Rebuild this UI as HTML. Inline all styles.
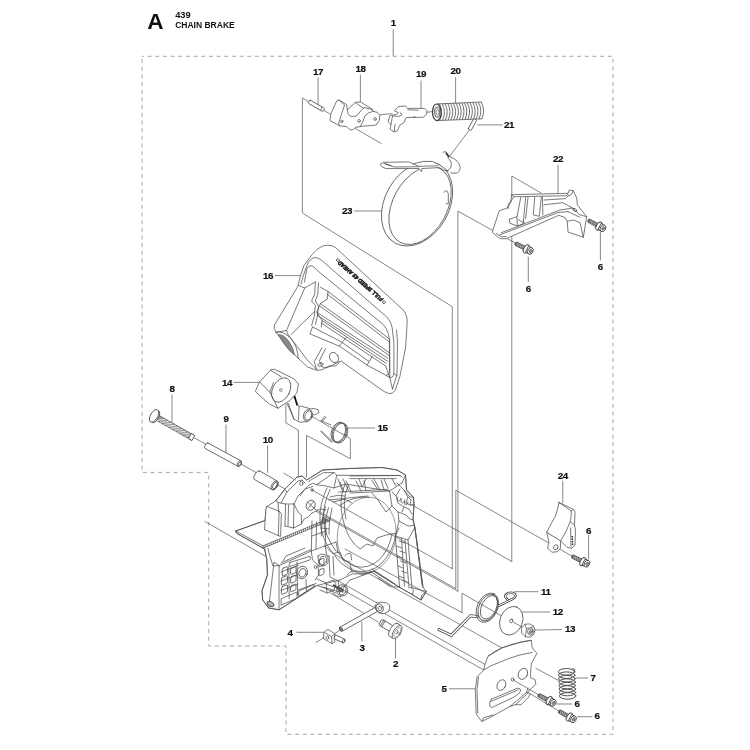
<!DOCTYPE html>
<html><head><meta charset="utf-8">
<style>
html,body{margin:0;padding:0;background:#fff;}
body{width:750px;height:750px;overflow:hidden;font-family:"Liberation Sans",sans-serif;}
svg{display:block;position:absolute;left:0;top:0;filter:blur(0.45px);}
.l{fill:none;stroke:#555;stroke-width:0.7;stroke-linecap:round;stroke-linejoin:round;}
.p{fill:#fff;stroke:#4d4d4d;stroke-width:0.75;stroke-linecap:round;stroke-linejoin:round;}
.n{fill:none;stroke:#4d4d4d;stroke-width:0.75;stroke-linecap:round;stroke-linejoin:round;}
.t{fill:none;stroke:#666;stroke-width:0.6;stroke-linecap:round;stroke-linejoin:round;}
.d{fill:none;stroke:#909090;stroke-width:0.8;stroke-dasharray:4 3.67;stroke-dashoffset:2.1;}
text{font-family:"Liberation Sans",sans-serif;font-weight:bold;fill:#111;}
.num{font-size:9.8px;text-anchor:middle;letter-spacing:-0.45px;stroke:#111;stroke-width:0.2px;}
</style></head><body>
<svg width="750" height="750" viewBox="0 0 750 750">
<rect width="750" height="750" fill="#fff"/>

<!-- HEADING -->
<g id="heading">
<text x="147.2" y="29.4" style="font-size:22.6px">A</text>
<text x="175.2" y="18.2" style="font-size:8.4px" textLength="15.5" lengthAdjust="spacingAndGlyphs">439</text>
<text x="175.2" y="28.1" style="font-size:8.6px" textLength="59.5" lengthAdjust="spacingAndGlyphs">CHAIN BRAKE</text>
</g>
<!-- DASHED BORDER -->
<path class="d" d="M142,56.3 H613 V734.3 H286 V646 H208.7 V472.4 H142 Z"/>
<!-- LONG EXPLODE LINES -->
<g id="longlines_behind" class="l">
<path d="M381.4,143.6 L302.4,98 V213 L452.3,306.7 V568.7"/>
<path d="M517,244 L457.9,211.1 V591.3"/>
<path d="M541,193 L511.8,176 V561.5"/>
<path d="M571.6,555.9 L455.8,490.2 V588.6"/>
<path d="M528,631 L462,593.3 V612.7"/>
</g>
<!-- LABELS -->
<g id="labels" class="num">
<text x="393.2" y="25.8">1</text>
<text x="318" y="75">17</text>
<text x="360.4" y="72.2">18</text>
<text x="421" y="77.4">19</text>
<text x="455.4" y="73.8">20</text>
<text x="509" y="128">21</text>
<text x="558" y="162">22</text>
<text x="347" y="214.3">23</text>
<text x="268" y="279.2">16</text>
<text x="227" y="385.6">14</text>
<text x="382.6" y="431.2">15</text>
<text x="172" y="392.3">8</text>
<text x="226" y="422">9</text>
<text x="267.7" y="443.3">10</text>
<text x="528.3" y="292.3">6</text>
<text x="600.2" y="269.7">6</text>
<text x="562.8" y="478.5">24</text>
<text x="588.6" y="533.6">6</text>
<text x="545.8" y="595">11</text>
<text x="557.8" y="615.3">12</text>
<text x="570.1" y="632">13</text>
<text x="593" y="681.3">7</text>
<text x="444" y="692">5</text>
<text x="576.9" y="706.8">6</text>
<text x="597.1" y="719.3">6</text>
<text x="290" y="635.6">4</text>
<text x="361.9" y="651.3">3</text>
<text x="395.5" y="666.8">2</text>
</g>
<!-- LEADERS -->
<g id="leaders" class="l">
<path d="M393.2,29.6 V56"/>
<path d="M318,78 V105"/>
<path d="M360.4,75 V102.4"/>
<path d="M421,81 V108"/>
<path d="M455.6,77.6 V104"/>
<path d="M477.6,124.9 H502.4"/>
<path d="M558,165 V193"/>
<path d="M354.5,211 H382"/>
<path d="M275.2,275.6 H300.4"/>
<path d="M234,382.4 H259.4"/>
<path d="M348,428 H374.7"/>
<path d="M172,395 V424.4"/>
<path d="M226,425 V454.3"/>
<path d="M267.6,445.7 V472.4"/>
<path d="M528.3,257.2 V281.5"/>
<path d="M600.4,232.4 V260"/>
<path d="M562.8,481 V503"/>
<path d="M588.6,535.3 V558.8"/>
<path d="M514.4,591.7 H537.9"/>
<path d="M521.7,612 H549.6"/>
<path d="M534.9,630.1 L561.3,629.5"/>
<path d="M576,678 H587.7"/>
<path d="M449.3,688.8 H474.8"/>
<path d="M556.9,704 H571.6"/>
<path d="M577.5,716.7 H592.1"/>
<path d="M296.9,632.3 H322.8"/>
<path d="M361.9,622 V641.2"/>
<path d="M395.5,638.8 V658"/>
</g>
<!-- PARTS -->
<g id="top">
<g id="p17"><rect class="p" x="307.6" y="103.9" width="17.4" height="3.7" rx="1.2" transform="rotate(30 316.3 105.75)"/><path class="n" d="M322.1,107.2 L320.5,110.1"/></g>
<g id="p18"><path class="p" d="M330.2,119.0 L331.0,113.4 L337.0,100.4 L339.0,100.0 L346.6,104.6 L347.4,109.8 L355.4,102.4 L360.6,102.0 L372.6,109.4 L373.0,111.4 L377.0,112.2 L379.8,115.4 L379.4,120.6 L376.2,125.0 L363.4,126.2 L360.2,126.6 L355.4,127.4 L353.0,129.8 L349.8,129.8 L346.6,126.6 L339.4,125.8 L330.2,120.6 Z"/><path class="n" d="M339.0,100.0 L344.6,105.0 L338.6,123.0 L339.4,125.8"/><path class="n" d="M347.4,109.8 L348.2,114.2 L350.6,116.4 L356.2,116.2 L363.4,108.2 L365.0,107.6 L372.2,109.6"/><path class="n" d="M355.4,102.4 L357.0,103.8 L363.4,108.2"/><path class="n" d="M373.0,111.4 L368.2,113.0 L365.0,115.8 L362.6,122.2 L360.2,126.6"/><ellipse class="n" cx="341.8" cy="121.4" rx="1.0" ry="1.4" transform="rotate(20 341.8 121.4)"/><ellipse class="n" cx="359.0" cy="121.0" rx="1.2" ry="1.5" transform="rotate(20 359.0 121.0)"/><ellipse class="n" cx="375.0" cy="119.0" rx="1.2" ry="1.5" transform="rotate(20 375.0 119.0)"/></g>
<g id="p19"><path class="p" d="M395.0,110.0 L399.0,106.4 L405.4,106.0 L407.8,108.4 L424.6,108.4 L427.0,110.8 L426.6,114.0 L423.8,117.2 L406.2,117.6 L403.8,122.8 L399.8,125.2 L397.4,130.8 L394.2,132.0 L390.2,129.2 L391.0,124.4 L388.2,122.0 L389.8,115.6 L396.6,114.4 L398.2,112.4 L395.0,111.2 Z"/><path class="n" d="M407.8,109.8 L418.2,110.2"/><path class="n" d="M392.6,115.6 L391.0,124.4"/><path class="n" d="M400.2,112.8 L402.2,114.4 L399.0,116.4 L393.4,116.0"/><path class="n" d="M395.0,124.4 L394.2,131.6"/><path class="n" d="M413.4,117.2 L415.0,116.6"/></g>
<path class="l" d="M380,114.8 L392,113.6 M427,112.3 L432,111.6"/>
<g id="p20" transform="rotate(-1.8 459 111.4)"><path d="M437,103.2 L481,102.8 Q485.5,111 481,119.6 L437,119.8 Z" fill="#fff" stroke="none"/><path d="M439.5,102.9 q4.2,8.4 0,16.8" fill="none" stroke="#6a6a6a" stroke-width="0.95"/><path d="M442.3,102.9 q4.2,8.4 0,16.8" fill="none" stroke="#6a6a6a" stroke-width="0.95"/><path d="M445.1,102.9 q4.2,8.4 0,16.8" fill="none" stroke="#6a6a6a" stroke-width="0.95"/><path d="M447.9,102.9 q4.2,8.4 0,16.8" fill="none" stroke="#6a6a6a" stroke-width="0.95"/><path d="M450.7,102.9 q4.2,8.4 0,16.8" fill="none" stroke="#6a6a6a" stroke-width="0.95"/><path d="M453.5,102.9 q4.2,8.4 0,16.8" fill="none" stroke="#6a6a6a" stroke-width="0.95"/><path d="M456.3,102.9 q4.2,8.4 0,16.8" fill="none" stroke="#6a6a6a" stroke-width="0.95"/><path d="M459.1,102.9 q4.2,8.4 0,16.8" fill="none" stroke="#6a6a6a" stroke-width="0.95"/><path d="M461.9,102.9 q4.2,8.4 0,16.8" fill="none" stroke="#6a6a6a" stroke-width="0.95"/><path d="M464.7,102.9 q4.2,8.4 0,16.8" fill="none" stroke="#6a6a6a" stroke-width="0.95"/><path d="M467.5,102.9 q4.2,8.4 0,16.8" fill="none" stroke="#6a6a6a" stroke-width="0.95"/><path d="M470.3,102.9 q4.2,8.4 0,16.8" fill="none" stroke="#6a6a6a" stroke-width="0.95"/><path d="M473.1,102.9 q4.2,8.4 0,16.8" fill="none" stroke="#6a6a6a" stroke-width="0.95"/><path d="M475.9,102.9 q4.2,8.4 0,16.8" fill="none" stroke="#6a6a6a" stroke-width="0.95"/><path d="M478.7,102.9 q4.2,8.4 0,16.8" fill="none" stroke="#6a6a6a" stroke-width="0.95"/><path d="M481.5,102.9 q4.2,8.4 0,16.8" fill="none" stroke="#6a6a6a" stroke-width="0.95"/><path class="n" d="M436.8,103.3 L481.5,102.7 M436.8,119.9 L481.5,119.6"/><ellipse cx="436.8" cy="111.6" rx="4.3" ry="8.3" fill="#fff" stroke="#3a3a3a" stroke-width="1.2"/><ellipse cx="437.2" cy="111.6" rx="2.6" ry="5.2" fill="#ddd" stroke="#555" stroke-width="0.9"/><ellipse cx="437.6" cy="111.8" rx="1.3" ry="2.6" fill="#fff" stroke="#666" stroke-width="0.6"/></g>
<g id="p21"><path class="l" d="M468.8,130.8 L448.8,157.2"/><rect class="p" x="466.4" y="122.9" width="12" height="3.4" rx="0.8" transform="rotate(-61.5 472.4 124.6)"/></g>
</g>
<g id="p23"><ellipse class="p" cx="417.1" cy="203.8" rx="45" ry="32.1" transform="rotate(-60.3 417.1 203.8)"/><ellipse class="n" cx="420.1" cy="205.4" rx="42" ry="27.2" transform="rotate(-61.4 420.1 205.4)"/><path class="p" d="M380.6,164.1 L383.8,162.3 L408.7,161.9 L413.1,163.8 L423.4,161.4 L432.2,161.4 L439.5,164.8 L448.3,171.1 L443.9,170.2 L439.5,167.6 L421.9,168.5 L421.6,171.7 L419.0,168.5 L386.0,168.6 L382.3,167.0 Z"/><path class="n" d="M385.3,164.1 L394.1,167.0 L419.0,166.7"/><path class="n" d="M383.8,163.2 L391.1,165.5"/><path class="n" d="M413.1,163.8 L419.0,166.3 L438.0,165.8"/><path class="n" d="M443.2,152.3 L445.4,151.4 L449.8,156.5 Q459.4,160.5 460.2,167.5 Q459.6,172.6 456.2,173.2 L450.6,172.9"/><path class="n" d="M447.8,158 Q452.6,161.5 451,167 Q449.6,170 446.8,170.9"/><path class="n" d="M446.2,153.2 l2.4,3.4" style="stroke-width:1.6;stroke:#333"/><path class="n" d="M443.9,192.2 L446.6,190.5 L448.3,193.4 L448.3,203.7 L446.1,203.7"/></g>
<g id="p22"><path class="p" d="M492.7,230.7 L499.3,210.7 L507.3,208.0 L508.7,203.3 L510.7,202.0 L511.7,194.7 L568.0,193.3 L569.3,190.0 L573.3,190.7 L576.7,198.0 L577.3,204.7 L586.7,216.7 L583.3,237.3 L568.0,232.0 L567.3,221.3 L564.7,217.3 L558.7,215.3 L509.3,237.3 L506.7,238.7 L500.7,238.7 L497.3,236.7 L492.7,232.7 Z"/><path class="n" d="M511.7,194.7 L513.6,196.8 L566.7,195.7 L568.0,193.3"/><path class="n" d="M513.6,196.8 L510.0,203.3 L508.0,208.7"/><path class="n" d="M520.7,197.6 L516.7,218.7 L523.3,222.7 L525.6,197.6"/><path class="n" d="M528.0,197.6 L525.6,218.9"/><path class="n" d="M534.7,197.6 L533.3,214.9 L539.3,216.3 L541.3,197.3"/><path class="n" d="M542.4,196.8 L542.9,214.9"/><path class="n" d="M509.3,219.3 L516.7,216.7"/><path class="n" d="M509.3,219.3 L510.0,223.3 L517.3,226.0 L524.0,223.3 L523.5,220.3"/><path class="n" d="M517.3,226.0 L517.1,220.0"/><path class="n" d="M501.3,232.7 L560.0,210.0 L571.3,208.3"/><path class="n" d="M499.7,234.9 L558.0,212.5 L568.0,211.7"/><path class="n" d="M544.0,200.0 L565.3,198.7 L568.3,195.7"/><path class="n" d="M544.0,204.8 L562.7,202.7 L566.9,204.8 L574.0,209.1"/><path class="n" d="M570.7,206.7 L580.0,214.9 L586.7,216.7"/><path class="n" d="M568.0,211.7 L580.0,217.3"/><path class="n" d="M573.3,190.7 L571.3,194.7 L568.0,196.0"/><path class="n" d="M567.3,221.3 L573.3,220.0 L580.0,222.7 L583.3,237.3"/><path class="n" d="M496.0,233.3 L501.3,236.7 L506.7,236.7"/><ellipse class="n" cx="574.8" cy="210" rx="2" ry="1.3" transform="rotate(25 574.8 210)"/></g><g id="screws"><g transform="translate(515.2,243.3) rotate(26.6)">
<path d="M0.2,-1 L1.2,-1.8 L11,-1.9 L11,1.9 L1.2,1.8 L0.2,1 Z" fill="#6a6a6a" stroke="#333" stroke-width="0.7" stroke-linejoin="round"/>
<path d="M2,-1.8 l1,3.6 M3.8,-1.8 l1,3.6 M5.6,-1.8 l1,3.6 M7.4,-1.8 l1,3.6 M9.2,-1.8 l1,3.6" stroke="#ddd" stroke-width="0.5" fill="none"/>
<ellipse cx="12.4" cy="0" rx="2.4" ry="4.6" fill="#fff" stroke="#333" stroke-width="0.85"/>
<path d="M13.2,-3.5 L16.8,-3.4 L16.8,3.4 L13.2,3.5 Z" fill="#fff" stroke="#333" stroke-width="0.8"/>
<ellipse cx="17" cy="0" rx="2.6" ry="3.6" fill="#fff" stroke="#333" stroke-width="0.8"/>
<ellipse cx="17.3" cy="0" rx="1.2" ry="1.8" fill="#999" stroke="#444" stroke-width="0.6"/>
</g><g transform="translate(588,220.2) rotate(28.4)">
<path d="M0.2,-1 L1.2,-1.8 L11,-1.9 L11,1.9 L1.2,1.8 L0.2,1 Z" fill="#6a6a6a" stroke="#333" stroke-width="0.7" stroke-linejoin="round"/>
<path d="M2,-1.8 l1,3.6 M3.8,-1.8 l1,3.6 M5.6,-1.8 l1,3.6 M7.4,-1.8 l1,3.6 M9.2,-1.8 l1,3.6" stroke="#ddd" stroke-width="0.5" fill="none"/>
<ellipse cx="12.4" cy="0" rx="2.4" ry="4.6" fill="#fff" stroke="#333" stroke-width="0.85"/>
<path d="M13.2,-3.5 L16.8,-3.4 L16.8,3.4 L13.2,3.5 Z" fill="#fff" stroke="#333" stroke-width="0.8"/>
<ellipse cx="17" cy="0" rx="2.6" ry="3.6" fill="#fff" stroke="#333" stroke-width="0.8"/>
<ellipse cx="17.3" cy="0" rx="1.2" ry="1.8" fill="#999" stroke="#444" stroke-width="0.6"/>
</g><g transform="translate(571.8,556) rotate(27.0)">
<path d="M0.2,-1 L1.2,-1.8 L11,-1.9 L11,1.9 L1.2,1.8 L0.2,1 Z" fill="#6a6a6a" stroke="#333" stroke-width="0.7" stroke-linejoin="round"/>
<path d="M2,-1.8 l1,3.6 M3.8,-1.8 l1,3.6 M5.6,-1.8 l1,3.6 M7.4,-1.8 l1,3.6 M9.2,-1.8 l1,3.6" stroke="#ddd" stroke-width="0.5" fill="none"/>
<ellipse cx="12.4" cy="0" rx="2.4" ry="4.6" fill="#fff" stroke="#333" stroke-width="0.85"/>
<path d="M13.2,-3.5 L16.8,-3.4 L16.8,3.4 L13.2,3.5 Z" fill="#fff" stroke="#333" stroke-width="0.8"/>
<ellipse cx="17" cy="0" rx="2.6" ry="3.6" fill="#fff" stroke="#333" stroke-width="0.8"/>
<ellipse cx="17.3" cy="0" rx="1.2" ry="1.8" fill="#999" stroke="#444" stroke-width="0.6"/>
</g><g transform="translate(538.2,694.9) rotate(27.6)">
<path d="M0.2,-1 L1.2,-1.8 L11,-1.9 L11,1.9 L1.2,1.8 L0.2,1 Z" fill="#6a6a6a" stroke="#333" stroke-width="0.7" stroke-linejoin="round"/>
<path d="M2,-1.8 l1,3.6 M3.8,-1.8 l1,3.6 M5.6,-1.8 l1,3.6 M7.4,-1.8 l1,3.6 M9.2,-1.8 l1,3.6" stroke="#ddd" stroke-width="0.5" fill="none"/>
<ellipse cx="12.4" cy="0" rx="2.4" ry="4.6" fill="#fff" stroke="#333" stroke-width="0.85"/>
<path d="M13.2,-3.5 L16.8,-3.4 L16.8,3.4 L13.2,3.5 Z" fill="#fff" stroke="#333" stroke-width="0.8"/>
<ellipse cx="17" cy="0" rx="2.6" ry="3.6" fill="#fff" stroke="#333" stroke-width="0.8"/>
<ellipse cx="17.3" cy="0" rx="1.2" ry="1.8" fill="#999" stroke="#444" stroke-width="0.6"/>
</g><g transform="translate(558.6,711) rotate(29.1)">
<path d="M0.2,-1 L1.2,-1.8 L11,-1.9 L11,1.9 L1.2,1.8 L0.2,1 Z" fill="#6a6a6a" stroke="#333" stroke-width="0.7" stroke-linejoin="round"/>
<path d="M2,-1.8 l1,3.6 M3.8,-1.8 l1,3.6 M5.6,-1.8 l1,3.6 M7.4,-1.8 l1,3.6 M9.2,-1.8 l1,3.6" stroke="#ddd" stroke-width="0.5" fill="none"/>
<ellipse cx="12.4" cy="0" rx="2.4" ry="4.6" fill="#fff" stroke="#333" stroke-width="0.85"/>
<path d="M13.2,-3.5 L16.8,-3.4 L16.8,3.4 L13.2,3.5 Z" fill="#fff" stroke="#333" stroke-width="0.8"/>
<ellipse cx="17" cy="0" rx="2.6" ry="3.6" fill="#fff" stroke="#333" stroke-width="0.8"/>
<ellipse cx="17.3" cy="0" rx="1.2" ry="1.8" fill="#999" stroke="#444" stroke-width="0.6"/>
</g></g>
<g id="p16"><path class="p" d="M298,286 L300,277.3 L304,265.3 L312,254.7 Q320,245 327.5,245.2 Q332,245 335.5,247.5 L398.4,305.6 Q407.6,312 407.2,322 L405.6,347.2 L400,376 L395.2,390.4 Q392.5,394.5 388.5,393.5 L384,391.5 L340.8,360.8 L336,366 L329,366 L322,369.8 L316.8,370.3 L307.3,366.9 L287.3,347.8 L276,332.2 Q273.3,328.5 274.3,325.3 Z"/><path class="n" d="M301,284 L303.5,275 L308,262.7 Q312,257 316,257.6 Q319,258 322,260.6 L381,312 Q391,319 392.2,328 L393.9,342.6 L393.9,373.8 Q393,378.5 389.6,377.3"/><path class="n" d="M304.5,282 L306.7,269.3 Q309,264 313,266.5 L320.3,273 L379,321 Q388,327 389.4,339 L389.6,372 L386.1,376"/><path class="n" d="M396.5,330 L397.5,342 L397,374.4 L392.5,389 M389.6,377.3 L392.5,389 M393.9,373.8 L397,375.5"/><path class="n" d="M328.1,291.5 L389.6,339.1"/><path class="n" d="M327.2,294.1 L389.6,342.2"/><path class="n" d="M320.3,303.6 L389.6,353.0"/><path class="n" d="M319.9,306.2 L389.2,355.6"/><path class="n" d="M316.8,312.3 L387.9,358.2"/><path class="n" d="M317.1,315.2 L387.5,361.1"/><path class="n" d="M322.0,320.4 L386.1,363.4"/><path class="n" d="M321.6,323.2 L385.8,366.2"/><path class="n" d="M389.6,339.1 L389.9,377.3 M385.8,366.2 L389.6,377.3"/><path class="n" d="M320.3,287.1 L328.1,291.5 L327.2,299.3 L320.3,303.6 L316.8,312.3 L322.0,320.4 L321.3,327.0"/><path class="n" d="M315.4,281.9 L314.7,294.1 L311.6,301.0 L315.4,305.3 L314.2,316.6 L311.6,325.3"/><path class="n" d="M318.5,282.8 L317.8,294.1 L315.4,301.0 L318.5,306.2 L317.1,317.5 L315.4,324.4"/><path class="n" d="M312.5,327.0 L309.9,333.9 L339.3,346.1 L367.1,365.1 L389.6,377.3"/><path class="n" d="M312.5,327.0 L341.1,341.7 L368.8,361.3 M339.3,346.1 L346.3,337.4 M367.1,365.1 L372.3,356.5"/><path class="n" d="M298.6,285.4 L304.7,288.0 L315.4,281.9 M304.7,288.0 L286.5,330.5 L276.1,332.2"/><path class="n" d="M286.5,330.5 L288.2,334.8 L307.3,359.9 L316.8,369.5"/><path class="n" d="M314.7,311.4 L290.8,334.8"/><path d="M278.5,334.5 Q284,334.5 289,341.5 Q294,349 294.5,355 L290,351 Q283,343.5 278.5,334.5 Z" fill="#8a8a8a" stroke="#555" stroke-width="0.6"/><path class="n" d="M276,332.2 Q283,330.5 291,338.5 Q298,347 298.2,358.5"/><path class="n" d="M322.0,347.8 L314.2,361.7 L316.8,369.5 M325.5,348.7 L319.4,360.8 L322.0,366.9 L327.2,367.7 L339.3,361.7"/><ellipse class="n" cx="334" cy="357.5" rx="4.2" ry="5.4" transform="rotate(-30 334 357.5)"/><ellipse class="n" cx="320.5" cy="364.5" rx="2.6" ry="1.6" transform="rotate(-20 320.5 364.5)"/><text transform="translate(383.4,298.7) rotate(221.4)" style="font-size:5.6px;font-style:italic;font-weight:bold;stroke:#1a1a1a;stroke-width:0.55px" textLength="57.7" lengthAdjust="spacingAndGlyphs" fill="#1a1a1a">FULL SPEED 4S AHEAD</text><path d="M336.2,260 l1.8,-1.5 l1.5,1.7 l-1.7,1.7 z M382.3,302 l1.8,-1.5 l1.5,1.7 l-1.7,1.7 z" fill="none" stroke="#222" stroke-width="0.8"/></g>
<g id="p14"><path class="l" d="M285.9,404.6 V422.9 L298.4,430.2 V476 M306.5,477 V435.4 L350.4,458.8 V439"/><path class="l" d="M311.6,416.3 L349.7,438.3"/><path class="p" d="M291.8,393.6 L299.1,406.8 L300.6,406.1 L311.6,409.0 L313.0,408.3 L318.2,409.7 L318.9,412.7 L314.5,414.9 L312.3,414.1 L311.6,417.8 L307.9,421.5 L299.9,422.2 L294.0,419.3 L286.7,402.4 L289.6,398.7 Z"/><path class="n" d="M294.0,419.3 L288.4,403.4 M299.1,406.8 L298.4,420.0"/><path d="M294.6,396.3 L297,404.8" stroke="#111" stroke-width="1.7" fill="none" stroke-linecap="round"/><ellipse class="p" cx="307.9" cy="415.4" rx="4.4" ry="6" transform="rotate(18 307.9 415.4)"/><ellipse class="n" cx="308.3" cy="415.5" rx="3.2" ry="4.8" transform="rotate(18 308.3 415.5)"/><path class="p" d="M255.9,389.9 L259.5,381.9 L270.5,370.1 L274.2,369.1 L294.0,378.9 L298.4,384.1 L296.9,392.9 L290.3,400.2 L277.9,408.3 L269.1,403.9 L255.9,392.1 Z"/><path class="n" d="M270.5,370.1 L281.5,377.0 M259.5,381.9 L269.8,392.1 L277.9,408.3 M269.8,392.1 L273.5,382.6"/><ellipse class="n" cx="281.2" cy="390" rx="8.6" ry="13" transform="rotate(27 281.2 390)"/><ellipse cx="280.8" cy="390" rx="1.4" ry="1.7" fill="#ccc" stroke="#777" stroke-width="0.5"/></g><g id="p15"><ellipse class="n" cx="338.3" cy="432.2" rx="6.8" ry="10.3" transform="rotate(20 338.3 432.2)"/><ellipse class="n" cx="339.40000000000003" cy="432.64" rx="6.8" ry="10.3" transform="rotate(20 339.40000000000003 432.64)"/><ellipse class="n" cx="340.5" cy="433.08" rx="6.8" ry="10.3" transform="rotate(20 340.5 433.08)"/><path class="n" d="M320.4,431 L331.6,442.3 M321.6,431 L332.4,441.8 M321.1,420.7 L325,416.2 M322.3,421.5 L326,417.2 M321.1,420.7 L331,425"/></g>
<g id="p8_9_10"><path class="l" d="M194,437.6 L310,503"/><g transform="translate(154.6,416.2) rotate(29.4)"><path d="M2,-2.75 L44,-2.75 L44,2.75 L2,2.75 Z" fill="#a0a0a0" stroke="#444" stroke-width="0.7"/><path d="M4,2.6 l7,-5.2 M8,2.6 l7,-5.2 M12,2.6 l7,-5.2 M16,2.6 l7,-5.2 M20,2.6 l7,-5.2 M24,2.6 l7,-5.2 M28,2.6 l7,-5.2 M32,2.6 l7,-5.2 M36,2.6 l7,-5.2 M40,2.6 l7,-5.2 " stroke="#e8e8e8" stroke-width="0.9" fill="none"/><path d="M40.5,-2.9 L44.5,-2.9 L44.5,2.9 L40.5,2.9 Z" fill="#fff" stroke="#333" stroke-width="0.7"/><ellipse cx="1" cy="0" rx="3.2" ry="6.6" fill="#fff" stroke="#444" stroke-width="0.8"/><ellipse cx="-0.6" cy="0" rx="3.6" ry="7" fill="#fff" stroke="#444" stroke-width="0.8"/></g><g transform="translate(205.6,445.2) rotate(28.5)"><path d="M1,-3.1 L38.5,-3.1 A1.6,3.1 0 0 1 38.5,3.1 L1,3.1 A1.3,3.1 0 0 1 1,-3.1 Z" class="p"/><ellipse cx="38.5" cy="0" rx="1.7" ry="3.1" class="n"/><ellipse cx="38.7" cy="0" rx="1" ry="2" fill="#ddd" stroke="#555" stroke-width="0.5"/></g><g transform="translate(256,474.6) rotate(30)"><path d="M1.2,-5 L21.5,-5 A2.6,5 0 0 1 21.5,5 L1.2,5 A2.2,5 0 0 1 1.2,-5 Z" class="p"/><ellipse cx="21.5" cy="0" rx="2.7" ry="5" class="n"/><ellipse cx="21.8" cy="0" rx="1.8" ry="3.5" class="n"/></g></g>
<g id="housing"><path class="p" d="M235.8,531 L264.8,520.6 L266.8,506.5 L276,500.7 L284.7,489.3 L296.7,477.3 L302,476 L306.7,480 L322.7,470 L350,468.5 L382,467.5 L397,470 L405.5,475 L406.5,490 L413.5,497.3 L414,504.8 L413,519.7 L415,528.3 L423,587.3 L426.3,591.5 L421,600 L412.4,594.7 L399.6,587.3 L374,571.3 L350,580 L340,592 L316.7,585.5 L279,609.8 L268.7,608 L262.7,600 L262,590.7 L267.6,574.8 L266.8,559.4 L264.5,548.7 L237,533.5 Z"/><path class="n" d="M235.8,531 L264.8,520.6 M235.8,531 L237,533.5 L263,548.2 M235.8,531 L263,545.8 L329.7,518.2 M263,548.2 L329.7,520.8"/><path d="M263.0,545.8 l0.3,2.4 M265.0,545.0 l0.3,2.4 M267.0,544.1 l0.3,2.4 M269.1,543.3 l0.3,2.4 M271.1,542.5 l0.3,2.4 M273.1,541.6 l0.3,2.4 M275.1,540.8 l0.3,2.4 M277.1,539.9 l0.3,2.4 M279.2,539.1 l0.3,2.4 M281.2,538.3 l0.3,2.4 M283.2,537.4 l0.3,2.4 M285.2,536.6 l0.3,2.4 M287.3,535.8 l0.3,2.4 M289.3,534.9 l0.3,2.4 M291.3,534.1 l0.3,2.4 M293.3,533.3 l0.3,2.4 M295.3,532.4 l0.3,2.4 M297.4,531.6 l0.3,2.4 M299.4,530.7 l0.3,2.4 M301.4,529.9 l0.3,2.4 M303.4,529.1 l0.3,2.4 M305.4,528.2 l0.3,2.4 M307.5,527.4 l0.3,2.4 M309.5,526.6 l0.3,2.4 M311.5,525.7 l0.3,2.4 M313.5,524.9 l0.3,2.4 M315.6,524.1 l0.3,2.4 M317.6,523.2 l0.3,2.4 M319.6,522.4 l0.3,2.4 M321.6,521.5 l0.3,2.4 M323.6,520.7 l0.3,2.4 M325.7,519.9 l0.3,2.4 M327.7,519.0 l0.3,2.4 M329.7,518.2 l0.3,2.4 " stroke="#444" stroke-width="0.7" fill="none"/><path class="p" d="M266.8,506.5 L279.1,511.1 L281.4,513.4 L280.6,536.4 L278.3,535.6 L264.5,529.5 L266,509 Z"/><path class="n" d="M279.1,511.1 L278.3,535.6"/><path class="n" d="M276,500.7 L284.7,489.3 L296.7,477.3 L302,476 L306.7,480 L322.7,470 L350,468.5 L382,467.5 L397,470 L405.5,475 L406.5,490 L413.5,497.3 L414,504.8 L413,519.7 L415,528.3 L423,587.3"/><path class="n" d="M278,502.5 L285.5,504 L294,504 L298,496 L308.7,485.3 L312.7,483.3 L316.7,484.7 L334,472.5 L336.7,475.3 L400,475.5 L402.3,477"/><path class="n" d="M308.7,481.3 L323.3,472.7 L334,472.5 M350,476 L400,475.5 M350,478.6 L396,478.6"/><path class="n" d="M276,500.7 L278,502.5 L278.5,512 M285.5,504 L285,526 M294,504 L293.5,528 M285,526 L293.5,528 M288.5,505 L288,526"/><path class="n" d="M293.5,528 L301.5,524 L301.3,514.9 L298,512 L294,504 M301.5,524 L304,519 L308,517 L312,513"/><ellipse class="n" cx="301.3" cy="483.3" rx="1.6" ry="2.2"/><ellipse class="n" cx="310.7" cy="505.3" rx="4.4" ry="5.2" transform="rotate(25 310.7 505.3)"/><path class="n" d="M307.5,502 L314,508.5 M308,508.5 L313.5,501.5"/><circle class="n" cx="312" cy="490" r="1.3"/><path class="n" d="M316.7,484.7 L326,486 L334,488 L345,484 L389.5,491 L402,483"/><path class="n" d="M327,488 Q319,505 320,520 Q320.5,538 333,553.5"/><path class="n" d="M330,489.5 Q322.5,506 323.5,520 Q324.5,536 336,551"/><path class="n" d="M340,505.3 Q353,495.5 369.3,497.3"/><path class="n" d="M396,533.3 Q393.5,551 382,563 Q370,574.5 353.3,570.7 Q340,565 333.3,553.3"/><path class="n" d="M392,534 Q389.5,549 379.5,559.5 Q368.5,569.5 355,566.5 Q343.5,561.5 337,551"/><path class="n" d="M345,484 Q338,500 343,520 Q348,541 360,549 L367,544 L373,546 L377,538 L386,535 L396,533.3"/><path class="n" d="M348,486 Q341.5,501 346,519"/><path class="n" d="M338,479 L342,490 M343,479 L348.5,490.5 M359,479 L362,487 L366,479 M374,479 L380,490 M384,479 L388,488 M392,479 L396,486"/><path class="n" d="M336.7,475.3 L334,488 M350,493 L389.5,491"/><path class="n" d="M397,483 L404,490 L408,497 L406,503 M398,497 a1.8,2.4 20 1,0 3,1 M401.5,499 a1.8,2.4 20 1,0 3,1 M405,501 a1.8,2.4 20 1,0 3,1"/><path class="n" d="M389.5,491 L392,506 L398,512 L406,515 L410,519 L413,519.7 M392,506 L386,512 L378,500 L372,493"/><path class="n" d="M398,512 L399,521 L408,526 L414.5,525.4 M399,521 L395.3,536"/><path class="n" d="M395.3,536 L399.6,587.3 M401.5,538 L404.5,586 M408,540 L412,589 M399,528 L395.3,536 M395.3,536 L408,540 L414.5,528"/><path class="n" d="M396.5,546 L401.8,548 M397,556 L402.5,558 M398,566 L403,568 M398.7,576 L403.7,578"/><path class="n" d="M410.3,587.3 L426.3,591.5 L421,600 L412.4,594.7 L399.6,587.3 M412.4,594.7 L413.5,590 M421,600 L421.5,595.5 L426.3,591.5"/><path class="n" d="M399.6,587.3 L374,571.3 M374,571.3 L366,573.5 M391,587.3 L378,578"/><path class="n" d="M264.5,548.7 L266.8,559.4 L267.3,574.8 L262,590.7 L262.7,600 L268.7,608 L279,609.8"/><path class="n" d="M268,548.5 L271,560 L273,566 L279.1,565.6"/><path class="n" d="M279.1,565.6 L311.3,551 L325,546 L336,542 M279.1,565.6 L279,609.8 L316.7,585.5 L340,580 M279.1,565.6 L274,562 L268.7,608"/><path class="n" d="M281,563 L311,549.5 M283,561 L286,556 L305,548"/><rect class="n" x="282.2" y="568.6" width="5.4" height="7.6" rx="1.2" transform="skewY(-22) translate(0,114.0)"/><rect class="n" x="281.4" y="577.8" width="6.1" height="7.7" rx="1.2" transform="skewY(-22) translate(0,113.7)"/><rect class="n" x="281.4" y="587" width="6.1" height="7.7" rx="1.2" transform="skewY(-22) translate(0,113.7)"/><rect class="n" x="290.6" y="568.6" width="5.4" height="6.1" rx="1.2" transform="skewY(-22) translate(0,117.4)"/><rect class="n" x="290.6" y="577" width="5.4" height="6.5" rx="1.2" transform="skewY(-22) translate(0,117.4)"/><rect class="n" x="290.6" y="586" width="5.4" height="6" rx="1.2" transform="skewY(-22) translate(0,117.4)"/><rect class="n" x="319" y="560" width="5" height="7" rx="1.2" transform="skewY(-22) translate(0,128.9)"/><rect class="n" x="319" y="570" width="5" height="6" rx="1.2" transform="skewY(-22) translate(0,128.9)"/><path class="n" d="M290,562.5 L309.7,556.3 Q311.5,558.5 309.7,560 L290,566.5 Q288.5,564.5 290,562.5 Z"/><ellipse class="n" cx="302.1" cy="572.5" rx="5.4" ry="6.4" transform="rotate(20 302.1 572.5)"/><ellipse class="n" cx="302.5" cy="572.8" rx="3.4" ry="4.4" transform="rotate(20 302.5 572.8)"/><ellipse class="n" cx="323" cy="560.5" rx="3.6" ry="4.4" transform="rotate(20 323 560.5)"/><ellipse class="n" cx="315.5" cy="567" rx="1.3" ry="1.6"/><path class="n" d="M311.3,551 L312,521 M316,549 L316.5,522 M325,546 L326,528 M312,536 L326,531 M325,546 L333,553.5 L340,552 L343,560 L350,562 M336,542 L338,552"/><path class="n" d="M329,556 L330,577 L338,581 L340,592 M333,556.5 L334,575"/><ellipse class="n" cx="341.5" cy="590" rx="4.6" ry="5.4" transform="rotate(25 341.5 590)"/><ellipse class="n" cx="343.5" cy="591" rx="4.2" ry="5" transform="rotate(25 343.5 591)"/><path d="M333,585 L339,589" stroke="#222" stroke-width="1.5" fill="none"/><path class="n" d="M326,584 L337,588 M322,587 L336,593 M340,580 L352,574 L366,573.5"/><ellipse cx="270.5" cy="604" rx="3.8" ry="2.2" transform="rotate(28 270.5 604)" fill="#bbb" stroke="#333" stroke-width="0.8"/></g>
<g id="housing_extra"><path class="n" d="M325.3,506.7 L322,520 L321.3,536 M328.5,507.5 L325.5,520 L325,535 M332,508 L329.5,521 L329,534 M322,520 L329.5,521 M321.3,528 L329,529"/><path d="M322.6,517.5 L325.6,518 L325.3,523.5 L322.2,523 Z" fill="#777" stroke="#444" stroke-width="0.5"/><path class="n" d="M338.7,492 L388,489.3 M328.7,500 L368,496 M340,482 L344,492 M346,481 L351,491.5 M356,481 L361,491 M364,480.5 L366,490.5 M372,480.5 L378,490 M381,480 L384,489.5"/><path class="n" d="M330,497 Q338,494 345,496 M333,502 L345,499 L352,503 M312,513 L320,509 L326,510"/><ellipse class="n" cx="366.7" cy="535" rx="29.3" ry="38" transform="rotate(8 366.7 535)" style="stroke:#666;stroke-width:0.6"/><path class="n" d="M402,483 L405.5,475 M404,490 L410,497 L413.5,497.3 M400,489 L396,496 L398,503 L404,507 L409,509 L412,514 M396,496 L392,492 M404,507 L402,512"/><path class="n" d="M406,503 L410,505 L414,504.8 M408,497 L411,500 L410,505"/><path class="n" d="M414.5,525.4 L416.5,540 L422,585 M405,540 L409,588 M399,541 L404.8,543 M400,551 L405.4,553 M400.6,561 L406,563 M401.4,571 L406.6,573 M402,580 L407.2,582"/><path class="n" d="M281,572 L298,565.5 M281,581 L298,574.5 M281,590.5 L298,584 M288.8,566 L289.2,598.5 M297,562 L297.6,595 M298,590 L316,583.5 M306,579.5 L306.4,591"/><path class="n" d="M311.3,551 L312.5,560 L318,565 L318.5,575 L315,580 M325,546 L327,556 L329,556"/><path class="n" d="M318,556 Q321,553 325,554.5 Q329,557 328,562 Q326.5,566.5 322,566 Q318,564.5 318,556 Z"/><path class="n" d="M317,579 L326,583 L333.5,580 L336,584 L334,590 L327,593 L320,590 M326,583 L327,593 M333,593 Q336,597 341,596.5 M347,575 Q350,570 356,572 L362,575 L371,572 M350,564 L352,572 M345,556 Q347.5,552 351,554 L351.5,560"/><path class="n" d="M369.3,570.7 L393.3,586.7 L399.6,587.3 M372,569 L395,584"/><path d="M338,586.5 L343.5,589.5 L343,592.5 L337.5,589.5 Z" fill="#666" stroke="#333" stroke-width="0.5"/><path class="n" d="M284.7,489.3 L287,492 L298,481 L302,480 L305,483 M287,492 L281,503 M300,496 L305,489 L312.7,486.5"/></g>
<g id="longlines_front" class="l">
<path d="M452.3,568.7 L312,490"/>
<path d="M455.8,588.6 L313.3,508.2"/>
<path d="M457.9,591.3 L316,511.2"/>
<path d="M511.8,561.5 L411.2,504.5"/>
<path d="M462,612.7 L345,549"/>
<path d="M334.7,554.5 L502.5,648.3"/>
<path d="M336.7,580 L486,665"/>
<path d="M334,584.7 L483.7,670"/>
<path d="M330,592.7 L378,622"/>
<path d="M205,521.5 L265,556"/>
<path d="M284,473.3 L295.3,480"/>
</g>
<g id="p24"><path class="p" d="M546.7,532.3 L548.9,541.9 L547.6,548.3 L552.1,552.3 L557.4,551.7 L560.4,548.3 L560.6,540.9 Z"/><ellipse class="n" cx="555.8" cy="547.3" rx="2" ry="2.6" transform="rotate(25 555.8 547.3)"/><path class="p" d="M559,502.5 L573.4,509.4 L575,512.1 L574.5,524.9 L575.5,530.2 L575,545.1 L571.8,548.3 L567,547.3 L560.6,540.9 L546.7,532.3 Q552.5,521 555.3,516.3 Q558,509 559,502.5 Z"/><path class="n" d="M571.3,511 Q571.5,517 570.2,521.7 Q566.5,532 560.6,540.9 M559,502.5 L571.3,511 L573.4,509.4 M570.2,521.7 L574.5,524.9"/><path d="M572.3,536 L572.6,546" stroke="#222" stroke-width="1.5" stroke-dasharray="1.6 0.9" fill="none"/><path class="n" d="M570.6,528 L571,547"/></g>
<g id="p11_13"><path d="M477,616.4 L470.4,615.8 L451.3,635.4 L439,629.6" fill="none" stroke="#444" stroke-width="3" stroke-linejoin="round" stroke-linecap="round"/><path d="M477,616.4 L470.4,615.8 L451.3,635.4 L439,629.6" fill="none" stroke="#fff" stroke-width="1.5" stroke-linejoin="round" stroke-linecap="round"/><ellipse class="n" cx="487.4" cy="607.7" rx="15.5" ry="10.2" transform="rotate(-65 487.4 607.7)"/><ellipse class="n" cx="487.9" cy="607.5" rx="14.2" ry="8.9" transform="rotate(-65 487.9 607.5)"/><ellipse class="n" cx="488.9" cy="607.2" rx="12.6" ry="7.4" transform="rotate(-65 488.9 607.2)"/><path class="n" d="M478.2,612.5 Q478.5,620 485.5,620.8 Q491,620 495,613.5" style="stroke:#666;stroke-width:0.6"/><path d="M498.6,605.8 L512.7,598.9 Q516.6,596.6 515,594 Q512.5,592 507.8,593.2 Q504.4,594.8 505.4,597 L507.6,599.6" fill="none" stroke="#444" stroke-width="2.4" stroke-linejoin="round" stroke-linecap="round"/><path d="M498.6,605.8 L512.7,598.9 Q516.6,596.6 515,594 Q512.5,592 507.8,593.2 Q504.4,594.8 505.4,597 L507.6,599.6" fill="none" stroke="#fff" stroke-width="1" stroke-linejoin="round" stroke-linecap="round"/><ellipse class="p" cx="511.3" cy="620.7" rx="14.8" ry="11.2" transform="rotate(-68 511.3 620.7)"/><ellipse class="n" cx="511.3" cy="620.9" rx="1.9" ry="1.5" transform="rotate(-65 511.3 620.9)"/><path class="l" d="M512.8,621.8 L522.5,627.3"/><path class="p" d="M521.6,628 L524.8,624.3 L529.5,623.9 L533.6,626.2 L535,630 L533.8,634.5 L530.2,637.2 L525.4,636.8 L522,633.4 Z"/><path class="n" d="M524.8,624.3 L526.5,628.5 L525.4,636.8 M526.5,628.5 L531.5,627.5 L533.6,626.2 M531.5,627.5 L534.4,632"/><ellipse class="n" cx="530.3" cy="632" rx="2.6" ry="3.2" transform="rotate(-20 530.3 632)"/><ellipse cx="530.5" cy="632.2" rx="1.2" ry="1.6" fill="#999" stroke="#444" stroke-width="0.5"/></g><g id="p5"><path class="l" d="M535.9,668.3 L558.3,680.4"/><path class="p" d="M488.3,656.1 L502.3,647.7 L521.0,642.1 L531.3,640.3 L532.2,647.7 L536.9,653.3 L531.3,663.6 L530.3,677.6 L535.0,679.5 L535.9,684.1 L529.4,690.1 L526.6,694.4 L515.4,704.7 L509.8,706.5 L493.0,715.9 L481.8,721.5 L476.2,714.0 L475.3,689.7 L477.1,676.7 L483.7,670.1 L484.6,665.5 Z"/><path class="n" d="M483.7,670.1 Q491,665 498.6,662.7 Q509,658 519.1,655.2 L532.2,652.4"/><path class="n" d="M488.3,656.1 Q495,650.5 502.3,647.7 Q512,644 521,642.1 L531.3,640.3"/><ellipse class="n" cx="501.4" cy="685.1" rx="4.1" ry="5.6" transform="rotate(28 501.4 685.1)"/><ellipse class="n" cx="522.9" cy="673.9" rx="4.4" ry="5.8" transform="rotate(28 522.9 673.9)"/><ellipse class="n" cx="512.6" cy="679.5" rx="1.4" ry="1.7"/><path class="n" d="M491.3,699.2 L517.5,688.2 Q521,688 520.6,691 Q520,693.5 514,697 L492.8,707.2 Q489.6,708 489.6,704.5 Q489.5,700.5 491.3,699.2 Z"/><path class="n" d="M490.8,701.5 L518,690"/><path class="n" d="M481.8,721.5 L483.7,717.7 L493,715 M509.8,706.5 L526.6,692.5 L530.3,693.5 L528.5,697.2 L521,704.7 L515.4,704.7 M526.6,692.5 L528,688"/><path class="n" d="M478.5,677 L477,689.5 L477.8,713"/><path class="l" d="M513.6,680.3 L539,695 M530.3,693.8 L558.6,711"/></g><g id="p7"><ellipse class="n" cx="566.6" cy="671.8" rx="8.2" ry="3.3" style="stroke-width:1"/><ellipse class="n" cx="566.75" cy="675.2" rx="8.2" ry="3.3" style="stroke-width:1"/><ellipse class="n" cx="566.9" cy="678.7" rx="8.2" ry="3.3" style="stroke-width:1"/><ellipse class="n" cx="567.0500000000001" cy="682.1" rx="8.2" ry="3.3" style="stroke-width:1"/><ellipse class="n" cx="567.2" cy="685.6" rx="8.2" ry="3.3" style="stroke-width:1"/><ellipse class="n" cx="567.35" cy="689.0" rx="8.2" ry="3.3" style="stroke-width:1"/><ellipse class="n" cx="567.5" cy="692.5" rx="8.2" ry="3.3" style="stroke-width:1"/><ellipse class="n" cx="567.65" cy="695.9" rx="8.2" ry="3.3" style="stroke-width:1"/><path class="n" d="M571.5,669.5 q2,-2 3.2,0.2 q0.4,1.6 -1,2.4" style="stroke-width:1"/></g>
<g id="p2_3_4"><path class="l" d="M316,642.3 L324,637.7 M334.7,633.7 L340,630"/><path class="p" d="M324,632.3 L328,629.4 L334.7,633.7 L334.7,641.7 L332,643.7 L324,639 Z"/><path class="n" d="M324,632.3 L331.6,636.6 L332,643.7 M331.6,636.6 L334.7,633.7"/><ellipse class="n" cx="327.4" cy="637.6" rx="1.3" ry="1.7"/><g transform="translate(335,636.9) rotate(25)"><path class="p" d="M0,-2 L9.5,-2 A1.2,2 0 0 1 9.5,2 L0,2 Z"/><ellipse class="n" cx="9.5" cy="0" rx="1.1" ry="2"/></g><g transform="translate(340.3,629.6) rotate(-29.2)"><path class="p" d="M0.8,-2.3 L41,-2.3 L41,2.3 L0.8,2.3 A1.2,2.3 0 0 1 0.8,-2.3 Z"/><ellipse class="n" cx="0.9" cy="0" rx="1.2" ry="2.3"/><ellipse class="n" cx="1" cy="0" rx="0.5" ry="1"/></g><path class="p" d="M375.2,606 Q376,602.5 381,602.2 L386.5,602.8 Q390.2,604.5 389.8,608 L388.5,611.5 Q385.5,614 381,613.6 Q375.5,612.5 375.2,606 Z"/><ellipse class="n" cx="379.8" cy="608.2" rx="3.4" ry="4.4" transform="rotate(-25 379.8 608.2)"/><ellipse class="n" cx="380" cy="608.4" rx="1.7" ry="2.3" transform="rotate(-25 380 608.4)"/><g transform="translate(380,621.8) rotate(31)"><path class="p" d="M0.6,-2.6 L2,-3.3 L15,-3.3 L15,3.3 L2,3.3 L0.6,2.6 Z"/><path class="n" d="M2.4,-3.3 L2.4,3.3 M4,-3.3 L4,3.3"/><path class="p" d="M15.5,-7.6 L20,-7.4 L20,7.4 L15.5,7.6 A3,7.6 0 0 1 15.5,-7.6 Z"/><ellipse class="p" cx="20" cy="0" rx="3.6" ry="7.5"/><ellipse class="n" cx="20.3" cy="0" rx="2.5" ry="5.4" style="stroke:#777;stroke-width:0.6"/><path class="n" d="M19.4,-2 L21.2,0 L19.6,2.2 M21.2,0 L20,0" style="stroke-width:0.6"/></g></g>
<path class="n" d="M281.5,598.5 L297,592 L297,598 L281.5,605 Z M299,591 L314,584.5 L314,586.5 L299,596 Z"/>
<!-- PARTS2 -->
</svg>
</body></html>
